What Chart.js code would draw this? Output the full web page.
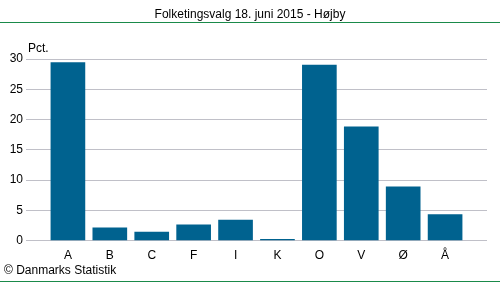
<!DOCTYPE html>
<html>
<head>
<meta charset="utf-8">
<script src="https://cdn.jsdelivr.net/npm/chart.js@4/dist/chart.umd.min.js"></script>
<style>
  html, body { margin: 0; padding: 0; background: #fff; overflow: hidden; }
  canvas { display: block; }
</style>
</head>
<body>
<canvas id="myChart" width="500" height="282"></canvas>
<script>
var title = 'Folketingsvalg 18. juni 2015 - Højby'
var unit = 'Pct.'
var source = '© Danmarks Statistik'
var parties = ['A', 'B', 'C', 'F', 'I', 'K', 'O', 'V', 'Ø', 'Å']
var shares = [29.4, 2.1, 1.4, 2.6, 3.4, 0.2, 29.0, 18.8, 8.9, 4.3]
var yTicks = [0, 5, 10, 15, 20, 25, 30]

// blank slot at each end gives the half-category margin seen in the original
var labels = [''].concat(parties, [''])
var values = [null].concat(shares, [null])

var green = '#1a8a4a'

var frame = {
  id: 'frame',
  afterDraw: function (chart) {
    var ctx = chart.ctx
    var area = chart.chartArea
    ctx.save()
    ctx.fillStyle = '#000'
    ctx.font = '12px "Liberation Sans", Arial, sans-serif'
    ctx.textAlign = 'center'
    ctx.textBaseline = 'alphabetic'
    ctx.fillText(title, 250, 18)
    ctx.textAlign = 'left'
    ctx.fillText(unit, area.left + 2, 52)
    ctx.fillText(source, 4, 274)
    ctx.strokeStyle = green
    ctx.lineWidth = 1
    ctx.beginPath()
    ctx.moveTo(0, 22.5)
    ctx.lineTo(500, 22.5)
    ctx.moveTo(0, 281.5)
    ctx.lineTo(500, 281.5)
    ctx.stroke()
    ctx.restore()
  }
}

Chart.defaults.font.family = '"Liberation Sans", Arial, sans-serif'
Chart.defaults.font.size = 12
Chart.defaults.color = '#000'

var ctx = document.getElementById('myChart').getContext('2d')
var chart = new Chart(ctx, {
  type: 'bar',
  data: {
    labels: labels,
    datasets: [{
      data: values,
      backgroundColor: '#00628f',
      barThickness: 34
    }]
  },
  plugins: [frame],
  options: {
    responsive: false,
    animation: false,
    layout: { padding: { top: 59, right: 13, bottom: 19, left: 0 } },
    plugins: {
      legend: { display: false },
      tooltip: { enabled: false }
    },
    scales: {
      x: {
        offset: false,
        grid: { display: false },
        border: { display: false },
        ticks: { padding: 0, autoSkip: false, maxRotation: 0 }
      },
      y: {
        min: 0,
        max: 30,
        afterBuildTicks: function (s) { s.ticks = yTicks.map(function (v) { return { value: v } }) },
        grid: { color: '#c0c0c8', drawTicks: false },
        border: { display: false },
        ticks: { padding: 3 },
        afterFit: function (s) { s.width = 26 }
      }
    }
  }
})
</script>
</body>
</html>
